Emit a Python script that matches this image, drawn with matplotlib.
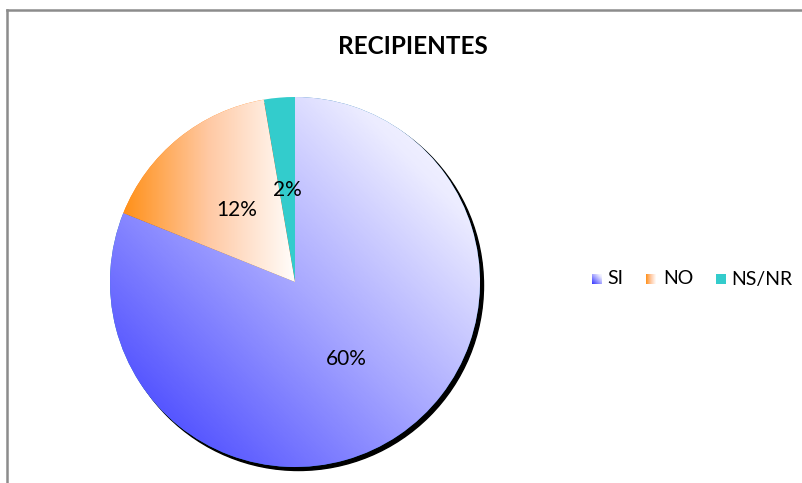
import matplotlib
matplotlib.use("Agg")
import matplotlib.pyplot as plt
import numpy as np
from matplotlib.colors import LinearSegmentedColormap
from matplotlib.patches import Circle, Rectangle
from matplotlib.lines import Line2D

title = "RECIPIENTES"
labels = ["SI", "NO", "NS/NR"]
values = [60, 12, 2]

W, H = 802, 483
fig = plt.figure(figsize=(W / 100, H / 100), dpi=100)
ax = fig.add_axes([0, 0, 1, 1])

cx, cy, r = 295, H - 282, 185
FONT = ["Lato", "DejaVu Sans"]

# shadow behind the pie
ax.add_patch(Circle((cx + 3.5, cy - 3.5), r, color="black", zorder=1))

wedges, texts, autotexts = ax.pie(
    values, startangle=90, counterclock=False, center=(cx, cy), radius=r,
    autopct=lambda p: f"{round(p * sum(values) / 100)}%", pctdistance=0.5,
    textprops=dict(fontsize=15, family=FONT, color="black"),
    wedgeprops=dict(linewidth=0), frame=True,
)
for w in wedges:
    w.set_zorder(2)
for t in autotexts:
    t.set_zorder(5)

cmap_si = LinearSegmentedColormap.from_list("si", [
    (0.0, "#3434ff"), (0.23, "#6a6aff"), (0.5, "#a8a8ff"),
    (0.825, "#ececff"), (1.0, "#fcfcff")])
cmap_no = LinearSegmentedColormap.from_list("no", ["#ff9018", "#ffc9a4", "#fffdfb"])

# diagonal gradient for SI (bottom-left blue -> top-right white)
gx, gy = np.meshgrid(np.linspace(0, 1, 300), np.linspace(0, 1, 300))
grad = (gx + gy) / 2
im = ax.imshow(grad, cmap=cmap_si, origin="lower", vmin=0, vmax=1,
               extent=(cx - r, cx + r, cy - r, cy + r), zorder=3, aspect="auto")
im.set_clip_path(wedges[0])

# horizontal gradient for NO
bb = wedges[1].get_path().get_extents(wedges[1].get_patch_transform())
hx = np.tile(np.linspace(0, 1, 200), (2, 1))
im2 = ax.imshow(hx, cmap=cmap_no, origin="lower",
                extent=(bb.x0, bb.x1, bb.y0, bb.y1), zorder=3, aspect="auto")
im2.set_clip_path(wedges[1])

wedges[2].set_facecolor("#33cccc")
wedges[2].set_zorder(3)

# legend
leg_y = H - 279
sq = 10
leg_items = [(592, 607), (646, 663), (716, 731)]
for (sx, tx), lab in zip(leg_items, labels):
    rect = Rectangle((sx, leg_y - sq / 2), sq, sq, linewidth=0, facecolor="none", zorder=4)
    ax.add_patch(rect)
    ext = (sx, sx + sq, leg_y - sq / 2, leg_y + sq / 2)
    if lab == "SI":
        li = ax.imshow(grad, cmap=cmap_si, origin="lower", extent=ext, zorder=4, aspect="auto")
        li.set_clip_path(rect)
    elif lab == "NO":
        li = ax.imshow(hx, cmap=cmap_no, origin="lower", extent=ext, zorder=4, aspect="auto")
        li.set_clip_path(rect)
    else:
        rect.set_facecolor("#33cccc")
    ax.text(tx, leg_y, lab, fontsize=14, family=FONT, va="center", ha="left", zorder=5)

ax.text(413, H - 46, title, fontsize=17.5, fontweight="bold",
        family=FONT, ha="center", va="center")

# chart frame
ax.add_line(Line2D([6.5, W], [H - 9.5, H - 9.5], color="#8c8c8c", linewidth=1.8))
ax.add_line(Line2D([6.5, 6.5], [0, H - 9.5], color="#8c8c8c", linewidth=1.8))

ax.set_xlim(0, W)
ax.set_ylim(0, H)
ax.set_aspect("auto")
ax.axis("off")

fig.savefig("out.png", dpi=100)
